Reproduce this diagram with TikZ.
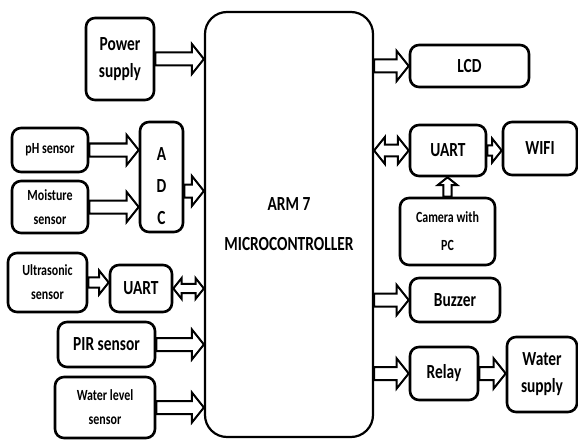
\documentclass[tikz,border=0pt]{standalone}
\usepackage{fontspec}
\setmainfont{Carlito}[FakeStretch=0.77]
\usetikzlibrary{calc,positioning}
\tikzset{
  blk/.style={draw, line width=2.6pt, rounded corners=9pt, align=center,
              inner sep=0pt, font=\bfseries\fontsize{20}{27}\selectfont},
  blks/.style={blk, font=\bfseries\fontsize{15.5}{24}\selectfont},
  arr/.style={line width=2pt, line join=miter, fill=white}
}
% hollow block arrows, optional size factor
\newcommand{\sarrow}[3][1]{%
  \path (#2) coordinate (tail) (#3) coordinate (tip)
    ($(tip)!#1*12pt!(tail)$) coordinate (neck);
  \draw[arr] ($(tail)!#1*6.5pt!90:(tip)$) -- ($(neck)!#1*6.5pt!90:(tip)$)
    -- ($(neck)!#1*15pt!90:(tip)$) -- (tip) -- ($(neck)!#1*15pt!-90:(tip)$)
    -- ($(neck)!#1*6.5pt!-90:(tip)$) -- ($(tail)!#1*6.5pt!-90:(tip)$) -- cycle;}
\newcommand{\darrow}[3][1]{%
  \path (#2) coordinate (tail) (#3) coordinate (tip)
    ($(tail)!#1*12pt!(tip)$) coordinate (necka)
    ($(tip)!#1*12pt!(tail)$) coordinate (neckb);
  \draw[arr] (tail) -- ($(necka)!#1*15pt!90:(tip)$) -- ($(necka)!#1*6.5pt!90:(tip)$)
    -- ($(neckb)!#1*6.5pt!90:(tip)$) -- ($(neckb)!#1*15pt!90:(tip)$) -- (tip)
    -- ($(neckb)!#1*15pt!-90:(tip)$) -- ($(neckb)!#1*6.5pt!-90:(tip)$)
    -- ($(necka)!#1*6.5pt!-90:(tip)$) -- ($(necka)!#1*15pt!-90:(tip)$) -- cycle;}

\begin{document}
\begin{tikzpicture}[x=1pt, y=-1pt]
  \useasboundingbox (0,0) rectangle (578,441);
  % controller
  \node[blk, line width=2.2pt, rounded corners=22pt, minimum width=168pt,
        minimum height=425pt] (mc) at (289,224.5) {ARM 7\\[13pt]MICROCONTROLLER};
  % inputs
  \node[blk, minimum width=68pt, minimum height=82pt] (pwr) at (120,59) {Power\\supply};
  \node[blks, minimum width=76pt, minimum height=44pt] (ph) at (50,150) {pH sensor};
  \node[blks, minimum width=76pt, minimum height=52pt] (moist) at (50,207) {Moisture\\sensor};
  \node[blk, minimum width=43pt, minimum height=110pt] (adc) at (161.5,177) {\rule{0pt}{32pt}A\\[5pt]D\\[5pt]C};
  \node[blks, minimum width=79pt, minimum height=59pt] (ultra) at (47.5,282.5) {Ultrasonic\\sensor};
  \node[blk, minimum width=62pt, minimum height=47pt] (uartl) at (141,288.5) {UART};
  \node[blk, minimum width=97pt, minimum height=45pt] (pir) at (106.5,344.5) {PIR sensor};
  \node[blks, minimum width=100pt, minimum height=61pt] (wls) at (105,407.5) {Water level\\sensor};
  % outputs
  \node[blk, minimum width=119pt, minimum height=42pt] (lcd) at (469.5,66) {LCD};
  \node[blk, minimum width=76pt, minimum height=51pt] (uartr) at (448,150.5) {UART};
  \node[blk, minimum width=74pt, minimum height=53pt] (wifi) at (540,148.5) {WIFI};
  \node[blks, minimum width=95pt, minimum height=67pt] (cam) at (447.5,231.5) {Camera with\\[4pt]PC};
  \node[blk, minimum width=90pt, minimum height=44pt] (buzz) at (455,300) {Buzzer};
  \node[blk, minimum width=68pt, minimum height=53pt] (relay) at (444,373.5) {Relay};
  \node[blk, minimum width=70pt, minimum height=75pt] (water) at (542,374.5) {Water\\supply};
  % links
  \coordinate (adcout) at ($(adc.east)+(0,14)$);
  \sarrow{pwr.east}{pwr.east -| mc.west}
  \sarrow{ph.east}{ph.east -| adc.west}
  \sarrow{moist.east}{moist.east -| adc.west}
  \sarrow{adcout}{adcout -| mc.west}
  \sarrow[0.8]{ultra.east}{ultra.east -| uartl.west}
  \darrow[0.7]{uartl.east}{uartl.east -| mc.west}
  \sarrow{pir.east}{pir.east -| mc.west}
  \sarrow{wls.east}{wls.east -| mc.west}
  \sarrow{lcd.west -| mc.east}{lcd.west}
  \darrow[0.9]{uartr.west -| mc.east}{uartr.west}
  \sarrow[0.8]{uartr.east}{uartr.east -| wifi.west}
  \sarrow[0.65]{cam.north}{cam.north |- uartr.south}
  \sarrow{buzz.west -| mc.east}{buzz.west}
  \sarrow{relay.west -| mc.east}{relay.west}
  \sarrow{relay.east}{relay.east -| water.west}
\end{tikzpicture}
\end{document}
